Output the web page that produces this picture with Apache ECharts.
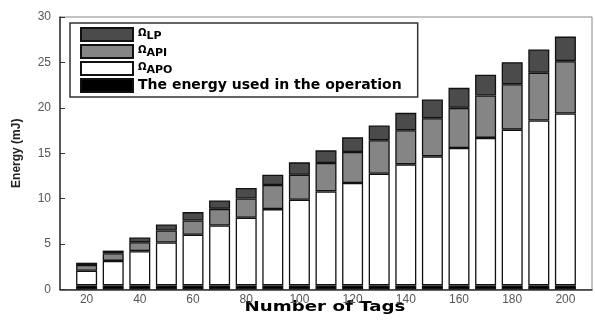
<!DOCTYPE html>
<html><head><meta charset="utf-8">
<script src="https://cdn.jsdelivr.net/npm/echarts@6/dist/echarts.min.js"></script>
<style>html,body{margin:0;padding:0;background:#fff}#c{width:595px;height:320px}</style>
</head><body><div id="c"></div>
<script>
const tags = [20,30,40,50,60,70,80,90,100,110,120,130,140,150,160,170,180,190,200];
const operation = [0.45,0.45,0.45,0.45,0.45,0.45,0.45,0.45,0.45,0.45,0.45,0.45,0.45,0.45,0.45,0.45,0.45,0.45,0.45];
const apo = [1.62,2.70,3.77,4.72,5.58,6.60,7.45,8.40,9.43,10.35,11.27,12.30,13.33,14.21,15.13,16.24,17.15,18.15,18.92];
const api = [0.63,0.85,0.98,1.33,1.57,1.83,2.12,2.65,2.76,3.13,3.42,3.68,3.75,4.19,4.42,4.67,5.00,5.26,5.77];
const lp  = [0.25,0.28,0.52,0.65,0.92,0.92,1.15,1.14,1.36,1.39,1.61,1.62,1.92,2.07,2.20,2.28,2.43,2.57,2.70];
const xLabelTicks = [20,40,60,80,100,120,140,160,180,200];
const xLimits = [10, 210];
const names = {op:'The energy used in the operation', apo:'ΩAPO', api:'ΩAPI', lp:'ΩLP'};

// axis categories: padding slot at each end (x from 10 to 210)
const cats = [xLimits[0], ...tags, xLimits[1]].map(String);
const chart = echarts.init(document.getElementById('c'), null, {renderer:'canvas'});
const border = {borderColor:'#111', borderWidth:1.3};
function ser(name, vals, color){
  return {name, type:'bar', stack:'e', barWidth:21,
    data: ['-', ...vals, '-'],
    itemStyle: Object.assign({color}, border), emphasis:{disabled:true}};
}
chart.setOption({
  animation:false,
  grid:{left:60, top:17, bottom:30.5, right:-3, show:true, borderColor:'#888', borderWidth:1},
  xAxis:{type:'category', data:cats, boundaryGap:false,
    axisLine:{lineStyle:{color:'#333', width:1.5}},
    axisTick:{show:false}, splitLine:{show:false},
    axisLabel:{fontFamily:'Liberation Sans', fontSize:12, color:'#555', margin:4, interval:0,
      formatter: v => xLabelTicks.includes(Number(v)) ? v : ''}},
  yAxis:{type:'value', min:0, max:30, interval:5,
    name:'Energy (mJ)', nameLocation:'middle', nameGap:37,
    nameTextStyle:{fontFamily:'Liberation Sans', fontWeight:'bold', fontSize:12, color:'#222'},
    axisLine:{show:true, lineStyle:{color:'#333', width:1.5}},
    axisTick:{show:true, inside:true, length:5, lineStyle:{color:'#333'}},
    splitLine:{show:false},
    axisLabel:{fontFamily:'Liberation Sans', fontSize:12, color:'#555', margin:9}},
  legend:{orient:'vertical', left:70, top:23, padding:[4,16,4,10],
    itemWidth:52, itemHeight:13, itemGap:2, icon:'rect', selectedMode:false,
    backgroundColor:'#fff', borderColor:'#333', borderWidth:1.5,
    data:[names.lp, names.api, names.apo, names.op],
    formatter: n => n[0]==='Ω' ? '{o|Ω}{s|'+n.slice(1)+'}' : n,
    textStyle:{fontFamily:'DejaVu Sans', fontWeight:'bold', fontSize:14, color:'#000', lineHeight:15,
      rich:{o:{fontFamily:'DejaVu Sans', fontSize:10, fontWeight:'bold', color:'#000', padding:[0,0,2,0]},
            s:{fontFamily:'DejaVu Sans', fontSize:11, fontWeight:'bold', color:'#000', padding:[4,0,0,0]}}}},
  graphic:[{type:'text', x:325, y:307, scaleX:1.3, silent:true,
    style:{text:'Number of Tags', font:'bold 14px "DejaVu Sans"', fill:'#000', textAlign:'center', textVerticalAlign:'middle'}}],
  series:[
    ser(names.op, operation, '#000'),
    ser(names.apo, apo, '#ffffff'),
    ser(names.api, api, '#858585'),
    ser(names.lp, lp, '#4b4b4b')
  ]
});
</script></body></html>
